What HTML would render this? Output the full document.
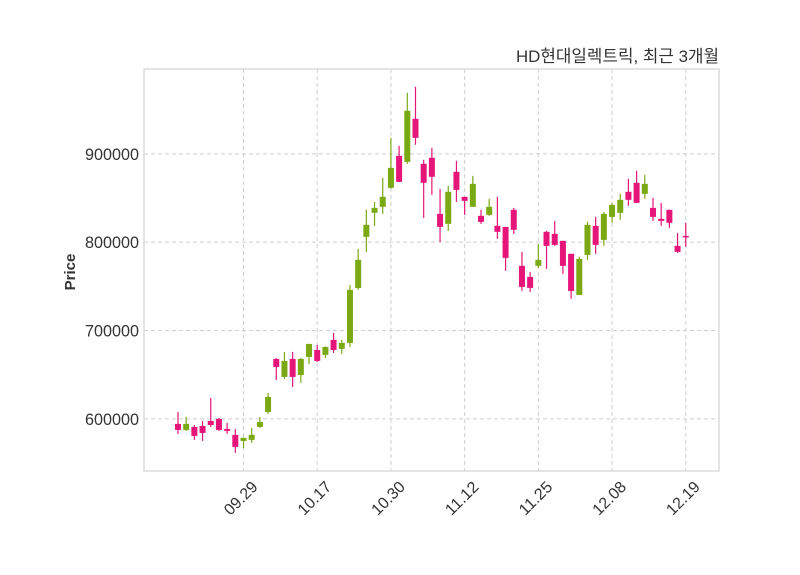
<!DOCTYPE html>
<html><head><meta charset="utf-8"><style>
html,body{margin:0;padding:0;background:#fff;}
svg{display:block;}
text{font-family:"Liberation Sans","Noto Sans CJK KR",sans-serif;}
</style></head><body>
<svg id="chart" width="800" height="575" viewBox="0 0 800 575" xmlns="http://www.w3.org/2000/svg">
<rect width="800" height="575" fill="#fff"/>
<text x="719" y="62" text-anchor="end" font-size="17" fill="#333" textLength="203" lengthAdjust="spacingAndGlyphs">HD현대일렉트릭, 최근 3개월</text>
<g id="grid"></g>
<g id="candles"></g>
<rect x="144" y="69" width="575" height="402" fill="none" stroke="#dcdcdc" stroke-width="1.5"/>
<g id="axes"></g>
<text transform="translate(75,272) rotate(-90)" text-anchor="middle" font-size="15" font-weight="bold" fill="#333">Price</text>
</svg>
<script>
const openP  = [594300,587500,590900,592000,597600,599900,588600,581900,575000,576200,590900,607800,667800,647500,667800,649700,670100,678000,672400,689400,679200,686000,748200,806000,833200,840000,861500,897700,890900,939600,888700,895500,832000,820700,879600,851300,840000,829800,830900,818500,817300,836600,773200,760700,773200,811700,809400,801500,786800,740300,785600,818500,802600,828600,833200,857000,867200,854700,838800,826400,836600,795800,807100];
const highP  = [607800,602200,593100,597600,623700,601000,595400,588600,579000,589700,602200,629400,669000,675800,675800,669000,685000,683700,682000,697300,689400,751600,792400,836600,845600,872800,918100,909100,969100,975900,893200,906800,860400,863800,892100,851300,875100,836600,849000,851300,817300,838800,789000,766400,798100,812800,824100,801500,786800,783400,823000,828600,834300,844500,854700,871700,880700,876200,850200,844500,837000,810500,821900];
const lowP   = [583000,586400,576200,575000,590900,586400,583000,561500,567100,572800,589700,605600,644000,645200,636100,640700,662200,664400,669000,674600,673500,681400,746000,789000,818500,832000,860400,868000,888700,910200,827500,853600,800300,812800,845600,830900,840000,820700,829800,803700,767500,809400,744800,743700,770900,769800,795800,764100,735800,740300,780000,786800,795800,821900,825300,841100,844500,849000,824100,818500,816200,787900,794700];
const closeP = [587500,594300,580700,584100,593100,587500,586400,568300,578500,581900,596500,624800,658800,665600,647500,667800,684800,665600,681400,678000,686000,746000,780000,819600,838800,851300,884100,868300,948700,918100,867200,874000,817300,857000,859200,846800,866000,823000,840000,811700,782200,814000,749400,748200,780000,795800,796900,773200,744800,781100,819600,796900,832000,842200,847900,847900,844500,866000,828600,824100,821900,789000,806000];
const yTicks = [600000,700000,800000,900000];
const xTickIdx = [8,17,26,35,44,53,62];
const xTickLabels = ["09.29","10.17","10.30","11.12","11.25","12.08","12.19"];

const NS="http://www.w3.org/2000/svg";
const PL=144,PR=719,PT=69,PB=471;
const XMIN=-4.15,XMAX=66.06,YMIN=541000,YMAX=996000;
function xs(i){return PL+(i-XMIN)/(XMAX-XMIN)*(PR-PL);}
function ys(v){return PB-(v-YMIN)/(YMAX-YMIN)*(PB-PT);}
function mk(tag,attrs,parent){const e=document.createElementNS(NS,tag);for(const k in attrs)e.setAttribute(k,attrs[k]);parent.appendChild(e);return e;}
const grid=document.getElementById('grid'),axes=document.getElementById('axes'),cg=document.getElementById('candles');
yTicks.forEach(v=>{
  const y=ys(v);
  const l=mk('line',{x1:PL,x2:PR,y1:y,y2:y,stroke:'#cfcfcf','stroke-dasharray':'4,3','stroke-width':1},grid);
  
  
  const t=mk('text',{x:139,y:y+6,'text-anchor':'end','font-size':17,fill:'#333',textLength:54,lengthAdjust:'spacingAndGlyphs'},axes);
  t.textContent=String(v);
  
  
});
xTickIdx.forEach((i,k)=>{
  const x=xs(i);
  const l=mk('line',{x1:x,x2:x,y1:PT,y2:PB,stroke:'#cfcfcf','stroke-dasharray':'4,3','stroke-width':1},grid);
  
  
  const t=mk('text',{'text-anchor':'middle','font-size':16,fill:'#333',textLength:40,lengthAdjust:'spacingAndGlyphs',transform:'translate('+(x+1)+',502) rotate(-45)'},axes);
  t.textContent=xTickLabels[k];
  
  
});
for(let i=0;i<openP.length;i++){
  const up=closeP[i]>=openP[i];
  const col=up?'#7aa914':'#e5157a';
  const x=xs(i);
  const g=mk('g',{},cg);
  
  
  mk('line',{x1:x,x2:x,y1:ys(highP[i]),y2:ys(lowP[i]),stroke:col,'stroke-width':1.2},g);
  const top=ys(Math.max(openP[i],closeP[i])),bot=ys(Math.min(openP[i],closeP[i]));
  mk('rect',{x:x-3,y:top,width:6,height:Math.max(bot-top,1.5),fill:col},g);
}
</script>
</body></html>
